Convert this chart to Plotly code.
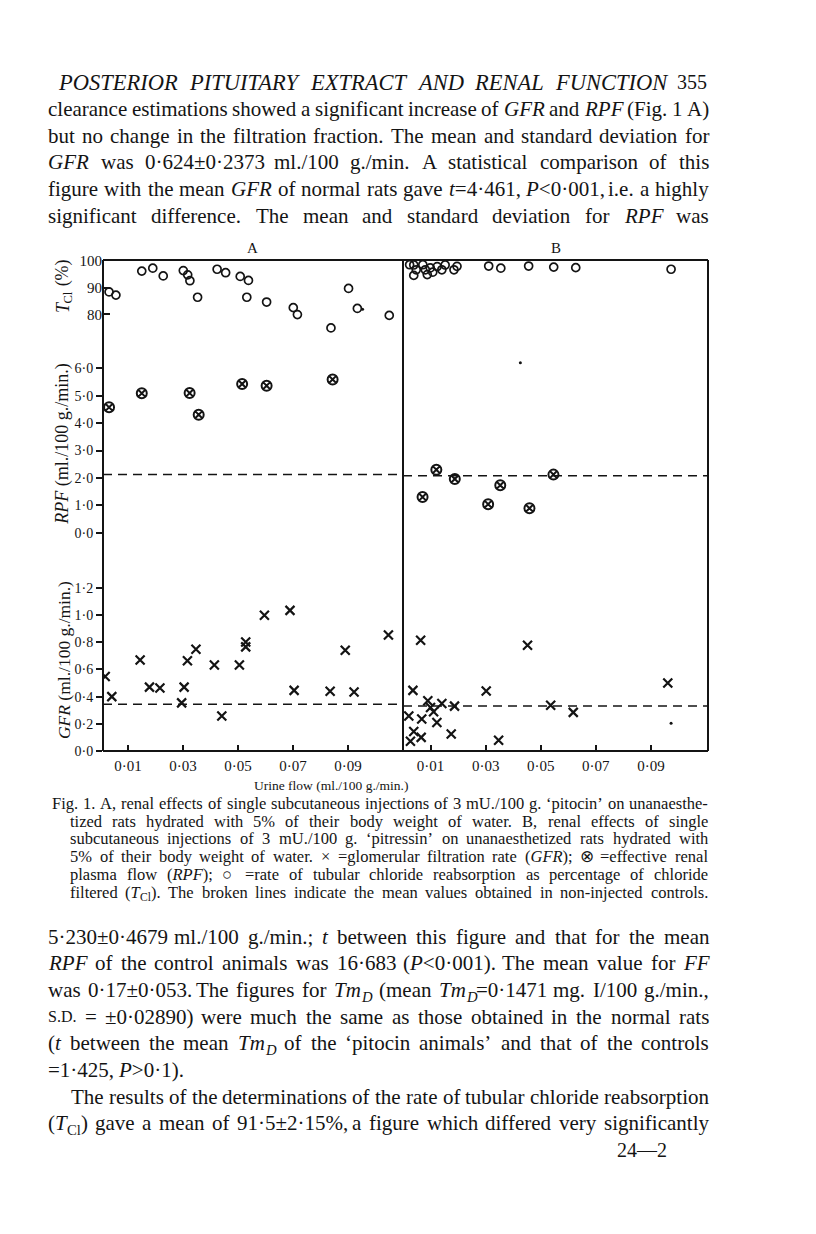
import re
import plotly.graph_objects as go

W, H = 816, 1234
OFF = 8  # the page body has an 8px margin; compensate so that positions match the reference
INK = "#141414"
FONT = "Liberation Serif, Times New Roman, serif"

# ---------------- data ----------------
tcl_A_x = [0.0031, 0.0056, 0.0150, 0.0190, 0.0228, 0.0301, 0.0317, 0.0325, 0.0353, 0.0424, 0.0455,
           0.0508, 0.0538, 0.0532, 0.0604, 0.0701, 0.0716, 0.0838, 0.0902, 0.0934, 0.1050]
tcl_A_y = [88.4, 87.2, 96.2, 97.3, 94.4, 96.4, 94.8, 92.6, 86.4, 96.9, 95.6,
           94.2, 92.7, 86.4, 84.6, 82.5, 79.9, 74.9, 89.7, 82.2, 79.6]
tcl_B_x = [0.0024, 0.0039, 0.0048, 0.0039, 0.0072, 0.0081, 0.0088, 0.0099, 0.0108, 0.0124,
           0.0141, 0.0153, 0.0185, 0.0196, 0.0311, 0.0355, 0.0456, 0.0547, 0.0627, 0.0973]
tcl_B_y = [98.6, 98.5, 96.7, 94.6, 98.6, 96.7, 94.9, 97.4, 95.8, 97.9,
           96.7, 98.5, 96.7, 98.0, 98.1, 97.3, 98.1, 97.7, 97.5, 96.9]

rpf_A_x = [0.0031, 0.0150, 0.0324, 0.0357, 0.0515, 0.0604, 0.0844]
rpf_A_y = [4.58, 5.09, 5.10, 4.31, 5.43, 5.37, 5.60]
rpf_B_x = [0.0071, 0.0121, 0.0188, 0.0309, 0.0353, 0.0459, 0.0546]
rpf_B_y = [1.30, 2.30, 1.96, 1.04, 1.73, 0.89, 2.12]

gfr_A_x = [0.0017, 0.0041, 0.0144, 0.0178, 0.0216, 0.0295, 0.0304, 0.0316, 0.0347, 0.0414, 0.0441,
           0.0505, 0.0528, 0.0528, 0.0596, 0.0689, 0.0704, 0.0835, 0.0890, 0.0922, 0.1047]
gfr_A_y = [0.548, 0.400, 0.669, 0.470, 0.463, 0.354, 0.470, 0.664, 0.749, 0.633, 0.257,
           0.633, 0.802, 0.766, 0.999, 1.035, 0.446, 0.439, 0.742, 0.434, 0.853]
gfr_B_x = [0.0064, 0.0452, 0.0961, 0.0036, 0.0302, 0.0090, 0.0100, 0.0111, 0.0141, 0.0187,
           0.0536, 0.0618, 0.0021, 0.0068, 0.0123, 0.0039, 0.0066, 0.0027, 0.0175, 0.0347]
gfr_B_y = [0.815, 0.778, 0.500, 0.446, 0.441, 0.369, 0.320, 0.289, 0.349, 0.330,
           0.337, 0.284, 0.257, 0.235, 0.209, 0.143, 0.100, 0.071, 0.124, 0.078]

# control means (broken lines)
rpf_control_A = 2.12
rpf_control_B = 2.08
gfr_control_A = 0.344
gfr_control_B = 0.330

# stray printed specks
speck_tcl_A = ([0.0953], [81.9])
speck_rpf_B = ([0.0426], [6.21])
speck_gfr_B = ([0.0973], [0.204])

x_tick_vals = [0.01, 0.03, 0.05, 0.07, 0.09]
x_tick_text = ["0·01", "0·03", "0·05", "0·07", "0·09"]
tcl_tick_vals = [80, 90, 100]
tcl_tick_text = ["80", "90", "100"]
rpf_tick_vals = [0, 1, 2, 3, 4, 5, 6]
rpf_tick_text = ["0·0", "1·0", "2·0", "3·0", "4·0", "5·0", "6·0"]
gfr_tick_vals = [0, 0.2, 0.4, 0.6, 0.8, 1.0, 1.2]
gfr_tick_text = ["0·0", "0·2", "0·4", "0·6", "0·8", "1·0", "1·2"]

# ---------------- text width helpers (Times metrics) ----------------
ROMAN = {' ': 250, '!': 333, '"': 408, '%': 833, '&': 778, "'": 180, '(': 333, ')': 333, '*': 500,
         '+': 564, ',': 250, '-': 333, '.': 250, '/': 278, ':': 278, ';': 278, '<': 564, '=': 564,
         '>': 564, '?': 444, 'A': 722, 'B': 667, 'C': 667, 'D': 722, 'E': 611, 'F': 556, 'G': 722,
         'H': 722, 'I': 333, 'J': 389, 'K': 722, 'L': 611, 'M': 889, 'N': 722, 'O': 722, 'P': 556,
         'Q': 722, 'R': 667, 'S': 556, 'T': 611, 'U': 722, 'V': 722, 'W': 944, 'X': 722, 'Y': 722,
         'Z': 611, 'a': 444, 'b': 500, 'c': 444, 'd': 500, 'e': 444, 'f': 333, 'g': 500, 'h': 500,
         'i': 278, 'j': 278, 'k': 500, 'l': 278, 'm': 778, 'n': 500, 'o': 500, 'p': 500, 'q': 500,
         'r': 333, 's': 389, 't': 278, 'u': 500, 'v': 500, 'w': 722, 'x': 500, 'y': 500, 'z': 444,
         '±': 564, '·': 250, '‘': 333, '’': 333, '×': 564, '—': 1000, '⊗': 800, '○': 800,
         '\u00a0': 250, '\u2009': 167}
for d in '0123456789':
    ROMAN[d] = 500
ITALIC = {'A': 611, 'B': 611, 'C': 667, 'D': 722, 'E': 611, 'F': 611, 'G': 722, 'H': 722, 'I': 333,
          'J': 444, 'K': 667, 'L': 556, 'M': 833, 'N': 667, 'O': 722, 'P': 611, 'Q': 722, 'R': 611,
          'S': 500, 'T': 556, 'U': 722, 'V': 611, 'W': 833, 'X': 611, 'Y': 556, 'Z': 556,
          'a': 500, 'b': 500, 'c': 444, 'd': 500, 'e': 444, 'f': 278, 'g': 500, 'h': 500, 'i': 278,
          'j': 278, 'k': 444, 'l': 278, 'm': 722, 'n': 500, 'o': 500, 'p': 500, 'q': 500, 'r': 389,
          's': 389, 't': 278, 'u': 500, 'v': 444, 'w': 667, 'x': 444, 'y': 444, 'z': 389}

SUB_SCALE = 0.7


def piece_width(m, size):
    it, sc = False, 1.0
    w = 0.0
    for tok in re.split(r'(<[^>]+>|&lt;|&gt;)', m):
        if not tok:
            continue
        if tok.startswith('<') and tok.endswith('>'):
            t = tok.lower()
            if t == '<i>':
                it = True
            elif t == '</i>':
                it = False
            elif t.startswith('<span'):
                m2 = re.search(r'font-size:([\d.]+)px', t)
                sc = float(m2.group(1)) / size if m2 else 1.0
            elif t == '</span>':
                sc = 1.0
            continue
        chars = {'&lt;': '<', '&gt;': '>'}.get(tok, tok)
        for ch in chars:
            base = ITALIC.get(ch) if it else None
            if base is None:
                base = ROMAN.get(ch, 500)
            w += base * sc
    return w * size / 1000.0


def split_pieces(word, size):
    """Split a word into (text, size, is_sub) pieces; [[...]] marks a subscript."""
    out = []
    for p in re.split(r'(\[\[.*?\]\])', word):
        if not p:
            continue
        if p.startswith('[['):
            out.append((p[2:-2], size * SUB_SCALE, True))
        else:
            out.append((p, size, False))
    return out


def word_width(word, size):
    return sum(piece_width(t, s) for t, s, _ in split_pieces(word, size))


def pxx(p):
    return (p - OFF) / W


def pxy(p):
    return 1 - (p - OFF) / H


annotations = []


def add_text(text, x, y, size, anchor='left', angle=0, yanchor='middle'):
    annotations.append(dict(text=text, x=pxx(x), y=pxy(y), xref='paper', yref='paper',
                            xanchor=anchor, yanchor=yanchor, showarrow=False, borderpad=0,
                            textangle=angle, font=dict(size=size, family=FONT, color=INK)))


def add_word(word, x, y, size):
    for t, s, sub in split_pieces(word, size):
        add_text(t, x, y + (0.32 * size if sub else 0), s)
        x += piece_width(t, s)


def place_line(text, y, x0, x1, size, justify=True):
    words = [w for w in re.split(r' (?![^<]*>)', text) if w]
    widths = [word_width(w, size) for w in words]
    if justify and len(words) > 1:
        gap = (x1 - x0 - sum(widths)) / (len(words) - 1)
        gap = max(gap, 0.12 * size)
    else:
        gap = 0.25 * size
    x = x0
    for w, wd in zip(words, widths):
        add_word(w, x, y, size)
        x += wd + gap


def vertical_label(word, xc, yc, size):
    """Rotated (-90) label built from pieces so that subscripts need no markup."""
    pieces = split_pieces(word, size)
    total = sum(piece_width(t, s) for t, s, _ in pieces)
    y = yc + total / 2
    for t, s, sub in pieces:
        add_text(t, xc + (0.3 * size if sub else 0), y, s, anchor='center', angle=-90, yanchor='bottom')
        y -= piece_width(t, s)


# ---------------- page text ----------------
BODY = 21
place_line("<i>POSTERIOR</i> <i>PITUITARY</i> <i>EXTRACT</i> <i>AND</i> <i>RENAL</i> <i>FUNCTION</i>",
           76, 57, 665, 22.5)
add_text("355", 708, 76, 20, anchor='right')

top_lines = [
    (103, "clearance estimations showed a significant increase of <i>GFR</i> and <i>RPF</i> (Fig. 1 A)"),
    (130, "but no change in the filtration fraction. The mean and standard deviation for"),
    (157, "<i>GFR</i> was 0·624±0·2373 ml./100 g./min. A statistical comparison of this"),
    (184, "figure with the mean <i>GFR</i> of normal rats gave <i>t</i>=4·461, <i>P</i>&lt;0·001, i.e. a highly"),
    (211, "significant difference. The mean and standard deviation for <i>RPF</i> was"),
]
for y, t in top_lines:
    place_line(t, y, 47, 708, BODY)

bottom_lines = [
    (941, 47, True, "5·230±0·4679 ml./100 g./min.; <i>t</i> between this figure and that for the mean"),
    (968, 47, True, "<i>RPF</i> of the control animals was 16·683 (<i>P</i>&lt;0·001). The mean value for <i>FF</i>"),
    (995, 47, True, "was 0·17±0·053. The figures for <i>Tm</i>[[<i>D</i>]] (mean <i>Tm</i>[[<i>D</i>]]=0·1471 mg. I/100 g./min.,"),
    (1022, 47, True, "<span style=\"font-size:16px\">S.D.</span> = ±0·02890) were much the same as those obtained in the normal rats"),
    (1049, 47, True, "(<i>t</i> between the mean <i>Tm</i>[[<i>D</i>]] of the ‘pitocin animals’ and that of the controls"),
    (1076, 47, False, "=1·425, <i>P</i>&gt;0·1)."),
    (1103, 70, True, "The results of the determinations of the rate of tubular chloride reabsorption"),
    (1130, 47, True, "(<i>T</i>[[Cl]]) gave a mean of 91·5±2·15%, a figure which differed very significantly"),
]
for y, x0, j, t in bottom_lines:
    place_line(t, y, x0, 708, BODY, justify=j)
add_text("24—2", 668, 1157, 20, anchor='right')

CAP = 16.5
caption = [
    (806, 51, "Fig. 1. A, renal effects of single subcutaneous injections of 3 mU./100 g. ‘pitocin’ on unanaesthe-"),
    (824, 69, "tized rats hydrated with 5% of their body weight of water. B, renal effects of single"),
    (842, 69, "subcutaneous injections of 3 mU./100 g. ‘pitressin’ on unanaesthetized rats hydrated with"),
    (860, 69, "5% of their body weight of water. × =glomerular filtration rate (<i>GFR</i>); ⊗ =effective renal"),
    (878, 69, "plasma flow (<i>RPF</i>); ○ =rate of tubular chloride reabsorption as percentage of chloride"),
    (896, 69, "filtered (<i>T</i>[[Cl]]). The broken lines indicate the mean values obtained in non-injected controls."),
]
for y, x0, t in caption:
    place_line(t, y, x0, 707, CAP)

# chart labels
add_text("A", 252, 244, 15, anchor='center')
add_text("B", 556, 244, 15, anchor='center')
vertical_label("<i>T</i>[[Cl]]\u00a0(%)", 63, 284, 18)
add_text("<i>RPF</i> (ml./100 g./min.)", 63, 442, 18, anchor='center', angle=-90)
add_text("<i>GFR</i> (ml./100 g./min.)", 64, 661, 17.5, anchor='center', angle=-90)
add_text("Urine flow (ml./100 g./min.)", 331, 788, 13.5, anchor='center')

# ---------------- figure ----------------
fig = go.Figure()
circ = dict(symbol='circle-open', size=8, color=INK, line=dict(width=1.7, color=INK))
otimes = dict(symbol='circle-x-open', size=10, color=INK, line=dict(width=2, color=INK))
cross = dict(symbol='x-thin-open', size=9, color=INK, line=dict(width=2.2, color=INK))
dot = dict(symbol='circle', size=3, color=INK)

fig.add_trace(go.Scatter(x=tcl_A_x, y=tcl_A_y, mode='markers', marker=circ, xaxis='x', yaxis='y'))
fig.add_trace(go.Scatter(x=tcl_B_x, y=tcl_B_y, mode='markers', marker=circ, xaxis='x2', yaxis='y'))
fig.add_trace(go.Scatter(x=rpf_A_x, y=rpf_A_y, mode='markers', marker=otimes, xaxis='x', yaxis='y2'))
fig.add_trace(go.Scatter(x=rpf_B_x, y=rpf_B_y, mode='markers', marker=otimes, xaxis='x2', yaxis='y2'))
fig.add_trace(go.Scatter(x=gfr_A_x, y=gfr_A_y, mode='markers', marker=cross, xaxis='x', yaxis='y3'))
fig.add_trace(go.Scatter(x=gfr_B_x, y=gfr_B_y, mode='markers', marker=cross, xaxis='x2', yaxis='y3'))
fig.add_trace(go.Scatter(x=speck_tcl_A[0], y=speck_tcl_A[1], mode='markers', marker=dot, xaxis='x', yaxis='y'))
fig.add_trace(go.Scatter(x=speck_rpf_B[0], y=speck_rpf_B[1], mode='markers', marker=dot, xaxis='x2', yaxis='y2'))
fig.add_trace(go.Scatter(x=speck_gfr_B[0], y=speck_gfr_B[1], mode='markers', marker=dot, xaxis='x2', yaxis='y3'))

L, DIV, R, TOP, BOT = 103, 403, 708, 256, 753

tickfont = dict(family=FONT, size=15, color=INK)
common_x = dict(showgrid=False, zeroline=False, showline=False, ticks='inside', ticklen=6,
                tickwidth=1.5, tickcolor=INK, tickfont=tickfont, tickvals=x_tick_vals,
                ticktext=x_tick_text, anchor='y3', fixedrange=True, ticklabelstandoff=4)
common_y = dict(showgrid=False, zeroline=False, showline=False, tickwidth=1.5, tickcolor=INK,
                tickfont=dict(family=FONT, size=14, color=INK), anchor='x', side='left',
                fixedrange=True)

shapes = []
frame = dict(type='line', xref='paper', yref='paper', line=dict(color=INK, width=2))
for (x0, y0, x1, y1) in [(L, TOP, R, TOP), (L, BOT, R, BOT), (L, TOP, L, BOT), (R, TOP, R, BOT),
                         (DIV, TOP, DIV, BOT)]:
    shapes.append(dict(frame, x0=pxx(x0), x1=pxx(x1), y0=pxy(y0), y1=pxy(y1)))

dash = dict(type='line', line=dict(color=INK, width=1.5, dash='9px,6px'))
shapes.append(dict(dash, xref='x domain', yref='y2', x0=0, x1=1, y0=rpf_control_A, y1=rpf_control_A))
shapes.append(dict(dash, xref='x2 domain', yref='y2', x0=0, x1=1, y0=rpf_control_B, y1=rpf_control_B))
shapes.append(dict(dash, xref='x domain', yref='y3', x0=0, x1=1, y0=gfr_control_A, y1=gfr_control_A))
shapes.append(dict(dash, xref='x2 domain', yref='y3', x0=0, x1=1, y0=gfr_control_B, y1=gfr_control_B))

fig.update_layout(
    width=W, height=H, margin=dict(l=0, r=0, t=0, b=0),
    paper_bgcolor='white', plot_bgcolor='rgba(0,0,0,0)', showlegend=False,
    font=dict(family=FONT, color=INK),
    xaxis=dict(common_x, domain=[pxx(L), pxx(DIV)], range=[0.0009, 0.1100]),
    xaxis2=dict(common_x, domain=[pxx(DIV), pxx(R)], range=[0.0, 0.1107]),
    yaxis=dict(common_y, domain=[pxy(336), pxy(TOP)], range=[70.74, 100.37], ticks='inside', ticklen=7,
               tickvals=tcl_tick_vals, ticktext=tcl_tick_text,
               tickfont=dict(family=FONT, size=15, color=INK)),
    yaxis2=dict(common_y, domain=[pxy(560), pxy(342)], range=[-1.011, 6.859], ticks='outside', ticklen=6,
                tickvals=rpf_tick_vals, ticktext=rpf_tick_text),
    yaxis3=dict(common_y, domain=[pxy(BOT), pxy(566)], range=[0, 1.36], ticks='outside', ticklen=6,
                tickvals=gfr_tick_vals, ticktext=gfr_tick_text),
    shapes=shapes,
    annotations=annotations,
)

fig.write_html("out.html")
